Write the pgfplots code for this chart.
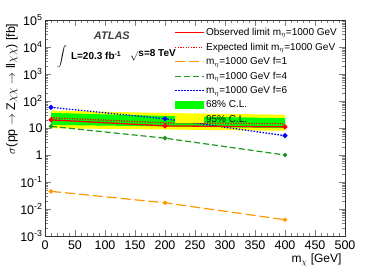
\documentclass[border=0pt]{standalone}
\usepackage{pgfplots}
\pgfplotsset{compat=1.18}
\usepackage{fontspec}
\setmainfont{Liberation Sans}
\definecolor{rootgreen}{RGB}{0,255,0}
\definecolor{rootyellow}{RGB}{255,255,0}
\definecolor{rootorange}{RGB}{255,153,0}
\definecolor{f4green}{RGB}{30,150,30}
\pgfplotsset{
  solidleg/.style={legend image code/.code={\fill[#1, draw=none] (0pt,-0.65pt) rectangle (29pt,0.65pt);}},
  dashleg/.style n args={3}{legend image code/.code={%
     \foreach \x in {0,#3,...,28.5}{\pgfmathsetmacro\xe{min(\x+#2,29)}%
        \fill[#1, draw=none] (\x pt,-0.65pt) rectangle (\xe pt,0.65pt);}}},
  bandleg/.style={legend image code/.code={\fill[#1, draw=none] (0pt,-4pt) rectangle (29pt,4pt);}},
}
\begin{document}
\begin{tikzpicture}
\begin{axis}[
  scale only axis, width=300pt, height=216pt,
  xmin=0, xmax=500, ymin=1e-3, ymax=1e5, ymode=log,
  axis line style={black!80, line width=0.7pt},
  tick align=inside, major tick length=6pt, minor tick length=3pt,
  xtick={0,50,...,500}, minor x tick num=4,
  ytick={1e-3,1e-2,1e-1,1,10,100,1e3,1e4,1e5},
  yticklabels={10\textsuperscript{-3},10\textsuperscript{-2},10\textsuperscript{-1},1,10,10\textsuperscript{2},10\textsuperscript{3},10\textsuperscript{4},10\textsuperscript{5}},
  minor ytick={2e-3,3e-3,4e-3,5e-3,6e-3,7e-3,8e-3,9e-3,
    2e-2,3e-2,4e-2,5e-2,6e-2,7e-2,8e-2,9e-2,
    0.2,0.3,0.4,0.5,0.6,0.7,0.8,0.9,
    2,3,4,5,6,7,8,9,20,30,40,50,60,70,80,90,
    200,300,400,500,600,700,800,900,2000,3000,4000,5000,6000,7000,8000,9000,
    2e4,3e4,4e4,5e4,6e4,7e4,8e4,9e4},
  /pgf/number format/assume math mode=true,
  tick label style={font=\fontsize{12.5}{14}\selectfont},
  xticklabel style={yshift=-1pt},
  yticklabel style={xshift=1pt},
  xlabel={m\textsubscript{$\chi$} [GeV]},
  xlabel style={font=\fontsize{12}{14}\selectfont, at={(rel axis cs:1,0)}, anchor=north east, yshift=-14pt},
  ylabel={$\sigma$(pp $\rightarrow$ Z$\chi\chi$ $\rightarrow$ ll$\chi\chi$) [fb]},
  ylabel style={font=\fontsize{12.5}{14}\selectfont, at={(rel axis cs:-0.11,1)}, anchor=east, rotate=0},
  legend style={at={(rel axis cs:0.433,0.972)}, anchor=north west, draw=none, fill=none,
    font=\fontsize{10}{11}\selectfont, row sep=1.8pt, cells={anchor=west}, inner xsep=0pt, inner ysep=0pt},
  legend cell align=left,
  reverse legend,
]
% 95% band
\addplot[fill=rootyellow, draw=none, bandleg={rootyellow}] coordinates {
  (10,44) (200,36) (400,31) (400,7.9) (200,8.8) (10,9.8)} --cycle;
\addlegendentry{95\% C.L.}
% 68% band
\addplot[fill=rootgreen, draw=none, bandleg={rootgreen}] coordinates {
  (10,36) (200,28) (400,23) (400,9.8) (200,11.5) (10,13)} --cycle;
\addlegendentry{68\% C.L.}
% f=6
\addplot[color=blue, line width=1.3pt, dash pattern=on 1.5pt off 1.5pt, mark=*, mark size=1.8pt, mark options={solid}, dashleg={blue}{1.5}{3}] coordinates {(10,58) (200,22) (400,5.2)};
\addlegendentry{m\textsubscript{$\eta$}=1000 GeV f=6}
% f=4
\addplot[color=f4green, line width=1.2pt, dash pattern=on 6pt off 3pt, mark=*, mark size=1.6pt, mark options={solid}, dashleg={f4green}{6}{9}] coordinates {(10,11.5) (200,4.2) (400,1.0)};
\addlegendentry{m\textsubscript{$\eta$}=1000 GeV f=4}
% f=1
\addplot[color=rootorange, line width=1.2pt, dash pattern=on 10pt off 4pt, mark=*, mark size=1.6pt, mark options={solid}, dashleg={rootorange}{10}{14}] coordinates {(10,0.045) (200,0.017) (400,0.004)};
\addlegendentry{m\textsubscript{$\eta$}=1000 GeV f=1}
% expected
\addplot[color=red, line width=1.3pt, dash pattern=on 1.3pt off 1.3pt, dashleg={red}{1.3}{2.6}] coordinates {(10,24) (200,15.5) (400,14.5)};
\addlegendentry{Expected limit m\textsubscript{$\eta$}=1000 GeV}
% observed
\addplot[color=red, line width=1.3pt, mark=*, mark size=1.8pt, solidleg={red}] coordinates {(10,20) (200,12) (400,11)};
\addlegendentry{Observed limit m\textsubscript{$\eta$}=1000 GeV}

\node[font=\fontsize{11}{13}\selectfont\itshape\bfseries, text=black!75] at (rel axis cs:0.223,0.926) {ATLAS};
\node[anchor=east, font=\Large, inner sep=1pt] at (rel axis cs:0.078,0.83) {$\displaystyle\int$};
\node[anchor=west, font=\fontsize{10}{12}\selectfont\bfseries] at (rel axis cs:0.075,0.835) {L=20.3 fb\textsuperscript{-1}};
\node[anchor=west, font=\fontsize{10}{12}\selectfont\bfseries] at (rel axis cs:0.272,0.835) {$\sqrt{}$s=8 TeV};
\end{axis}
\pgfresetboundingbox
\path[use as bounding box] (-45pt,-32pt) rectangle (329pt,236pt);
\end{tikzpicture}
\end{document}
